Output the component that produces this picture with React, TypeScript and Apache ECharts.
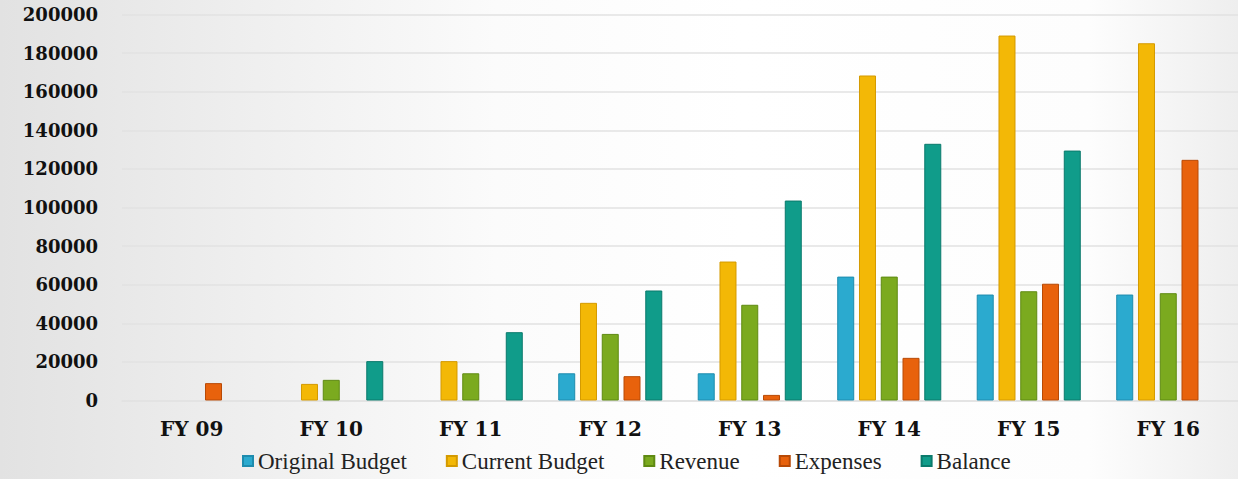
import React, { useEffect, useRef } from "react";
import * as echarts from "echarts";

const categories = ["FY 09", "FY 10", "FY 11", "FY 12", "FY 13", "FY 14", "FY 15", "FY 16"];
const originalBudget = [null, null, null, 14100, 14100, 64200, 54900, 54900];
const currentBudget = [null, 8600, 20400, 50600, 72000, 168400, 189100, 185100];
const revenue = [null, 10700, 14100, 34500, 49600, 64200, 56600, 55600];
const expenses = [9000, null, null, 12600, 2900, 22100, 60500, 124700];
const balance = [null, 20400, 35400, 57000, 103600, 133000, 129500, null];

const seriesDefs = [
  { name: "Original Budget", data: originalBudget, color: "#2BAACF", border: "#1E8CAE" },
  { name: "Current Budget", data: currentBudget, color: "#F3B806", border: "#D49A00" },
  { name: "Revenue", data: revenue, color: "#7BAA1F", border: "#5F8A12" },
  { name: "Expenses", data: expenses, color: "#E8620C", border: "#B84A06" },
  { name: "Balance", data: balance, color: "#109C8A", border: "#0A7A6C" },
];

const FONT = "DejaVu Serif";
const LEGEND_FONT = "Liberation Serif";

export default function App() {
  const ref = useRef<HTMLDivElement>(null);
  useEffect(() => {
    if (!ref.current) return;
    const chart = echarts.init(ref.current, undefined, { renderer: "svg" });
    chart.setOption({
      animation: false,
      textStyle: { fontFamily: FONT },
      backgroundColor: new echarts.graphic.LinearGradient(0, 0, 1, 0, [
        { offset: 0, color: "#e2e2e2" },
        { offset: 0.4, color: "#fbfbfb" },
        { offset: 0.6, color: "#ffffff" },
        { offset: 0.88, color: "#fdfdfd" },
        { offset: 1, color: "#eeeeee" },
      ]),
      grid: { left: 122, top: 14.5, width: 1116, height: 386 },
      legend: {
        left: 242,
        top: 448,
        padding: 0,
        itemWidth: 10,
        itemHeight: 10,
        itemGap: 39,
        icon: "rect",
        textStyle: { fontFamily: LEGEND_FONT, fontSize: 23, lineHeight: 26, color: "#222" },
        data: seriesDefs.map((s) => s.name),
      },
      xAxis: {
        type: "category",
        data: categories,
        axisLine: { show: true, lineStyle: { color: "#e2e2e2", width: 1.5 } },
        axisTick: { show: false },
        axisLabel: {
          margin: 18,
          fontFamily: FONT,
          fontWeight: "bold",
          fontSize: 20,
          color: "#111",
        },
      },
      yAxis: {
        type: "value",
        min: 0,
        max: 200000,
        interval: 20000,
        axisLine: { show: false },
        axisTick: { show: false },
        splitLine: { lineStyle: { color: "#e2e2e2", width: 1.5 } },
        axisLabel: {
          margin: 24,
          fontFamily: FONT,
          fontWeight: "bold",
          fontSize: 18,
          color: "#111",
          formatter: (v: number) => String(v),
        },
      },
      series: seriesDefs.map((s) => ({
        name: s.name,
        type: "bar",
        data: s.data,
        barWidth: 17,
        barGap: "28%",
        itemStyle: { color: s.color, borderColor: s.border, borderWidth: 1 },
      })),
    });
    return () => chart.dispose();
  }, []);
  return (
    <div
      ref={ref}
      style={{ position: "fixed", left: 0, top: 0, width: 1238, height: 479 }}
    />
  );
}
